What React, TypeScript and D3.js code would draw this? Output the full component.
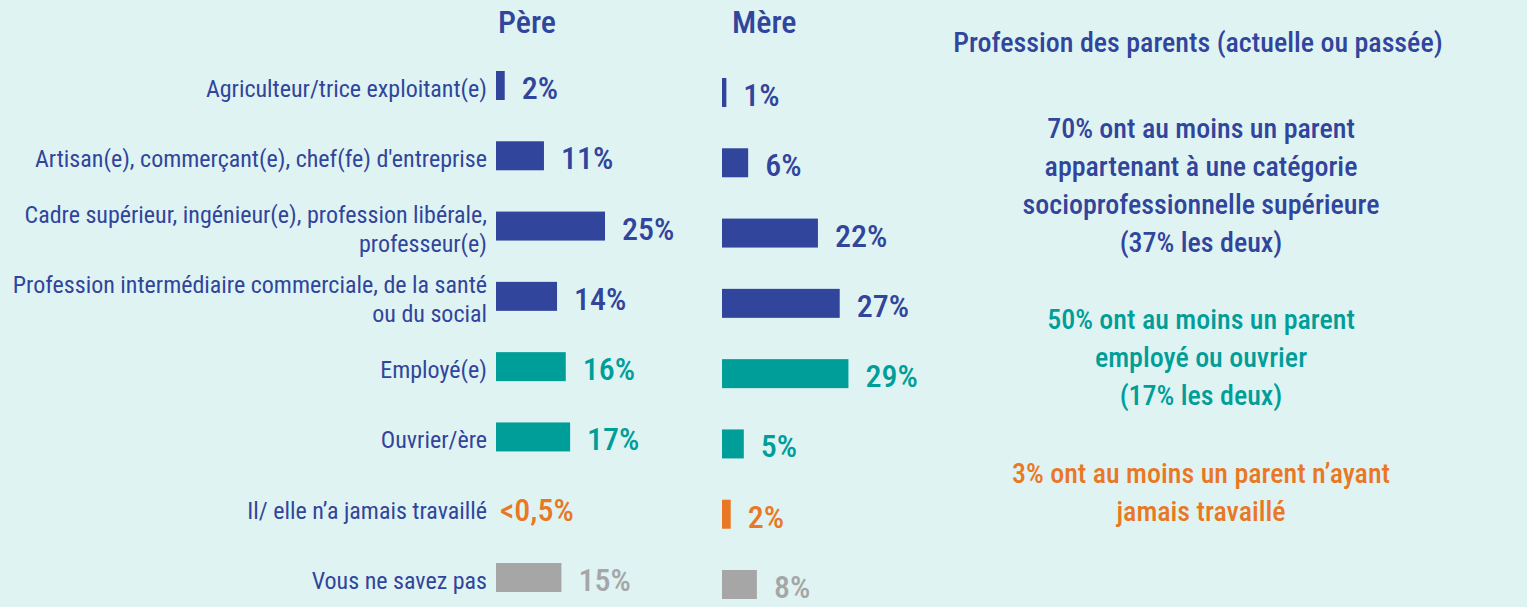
import React from 'react';
import * as d3 from 'd3';

const categories = [
  ['Agriculteur/trice exploitant(e)'],
  ["Artisan(e), commerçant(e), chef(fe) d'entreprise"],
  ['Cadre supérieur, ingénieur(e), profession libérale,', 'professeur(e)'],
  ['Profession intermédiaire commerciale, de la santé', 'ou du social'],
  ['Employé(e)'],
  ['Ouvrier/ère'],
  ['Il/ elle n’a jamais travaillé'],
  ['Vous ne savez pas'],
];
const groups = ['sup', 'sup', 'sup', 'sup', 'emp', 'emp', 'none', 'nsp'];
const pereValues = [2, 11, 25, 14, 16, 17, 0, 15];
const pereLabels = ['2%', '11%', '25%', '14%', '16%', '17%', '<0,5%', '15%'];
const mereValues = [1, 6, 22, 27, 29, 5, 2, 8];
const mereLabels = ['1%', '6%', '22%', '27%', '29%', '5%', '2%', '8%'];

const title = 'Profession des parents (actuelle ou passée)';
const notes = [
  { group: 'sup', lines: ['70% ont au moins un parent', 'appartenant à une catégorie', 'socioprofessionnelle supérieure', '(37% les deux)'] },
  { group: 'emp', lines: ['50% ont au moins un parent', 'employé ou ouvrier', '(17% les deux)'] },
  { group: 'none', lines: ['3% ont au moins un parent n’ayant', 'jamais travaillé'] },
];

const W = 1527;
const H = 607;
const BG = '#e0f3f3';
const BLUE = '#30459b';
const font = "'Roboto Condensed', 'Roboto', sans-serif";

const barColor = d3.scaleOrdinal<string, string>()
  .domain(['sup', 'emp', 'none', 'nsp'])
  .range([BLUE, '#009e99', '#e97825', '#a6a6a6']);

export default function App() {
  const idx = categories.map((_, i) => i);
  // rows: 29px bars on a ~70px step
  const y = d3.scaleBand<number>()
    .domain(idx)
    .range([71, 592])
    .paddingInner(0.5875)
    .paddingOuter(0);
  const x = d3.scaleLinear().domain([0, 30]).range([0, 130.8]);

  const columns = [
    { name: 'Père', x0: 496, dy: 0, values: pereValues, labels: pereLabels, headX: 498 },
    { name: 'Mère', x0: 722, dy: 7, values: mereValues, labels: mereLabels, headX: 732 },
  ];

  const noteY = [138, 329, 483];

  return (
    <div style={{ position: 'fixed', left: 0, top: 0, width: W, height: H, background: BG }}>
      <svg width={W} height={H} style={{ display: 'block' }}>
        <rect width={W} height={H} fill={BG} />

        {/* category labels */}
        {categories.map((lines, i) => {
          const c = y(i)! + y.bandwidth() / 2;
          return (
            <text key={i} x={487} fontFamily={font} fontSize={24} fill={BLUE} textAnchor="end">
              {lines.length === 1
                ? <tspan x={487} y={c + 11.5}>{lines[0]}</tspan>
                : lines.map((l, j) => <tspan key={j} x={487} y={c - 3.5 + j * 29}>{l}</tspan>)}
            </text>
          );
        })}

        {columns.map(col => (
          <g key={col.name}>
            <text x={col.headX} y={33} fontFamily={font} fontSize={32} fontWeight={500} fill={BLUE}>{col.name}</text>
            {col.values.map((v, i) => {
              const top = y(i)! + col.dy;
              const w = x(v);
              const g = groups[i];
              return (
                <g key={i}>
                  {v > 0 && <rect x={col.x0} y={top} width={w} height={y.bandwidth()} fill={barColor(g)} />}
                  <text
                    x={v > 0 ? col.x0 + w + 17 : col.x0 + 4}
                    y={top + y.bandwidth() - 1}
                    fontFamily={font}
                    fontSize={32}
                    fontWeight={500}
                    fill={barColor(g)}
                  >
                    {col.labels[i]}
                  </text>
                </g>
              );
            })}
          </g>
        ))}

        {/* right-hand commentary */}
        <text x={1198} y={52} textAnchor="middle" fontFamily={font} fontSize={28} fontWeight={500} fill={BLUE}>{title}</text>
        {notes.map((n, k) => (
          <text key={k} textAnchor="middle" fontFamily={font} fontSize={28} fontWeight={500} fill={barColor(n.group)}>
            {n.lines.map((l, j) => (
              <tspan key={j} x={1201} y={noteY[k] + j * 38}>{l}</tspan>
            ))}
          </text>
        ))}
      </svg>
    </div>
  );
}
